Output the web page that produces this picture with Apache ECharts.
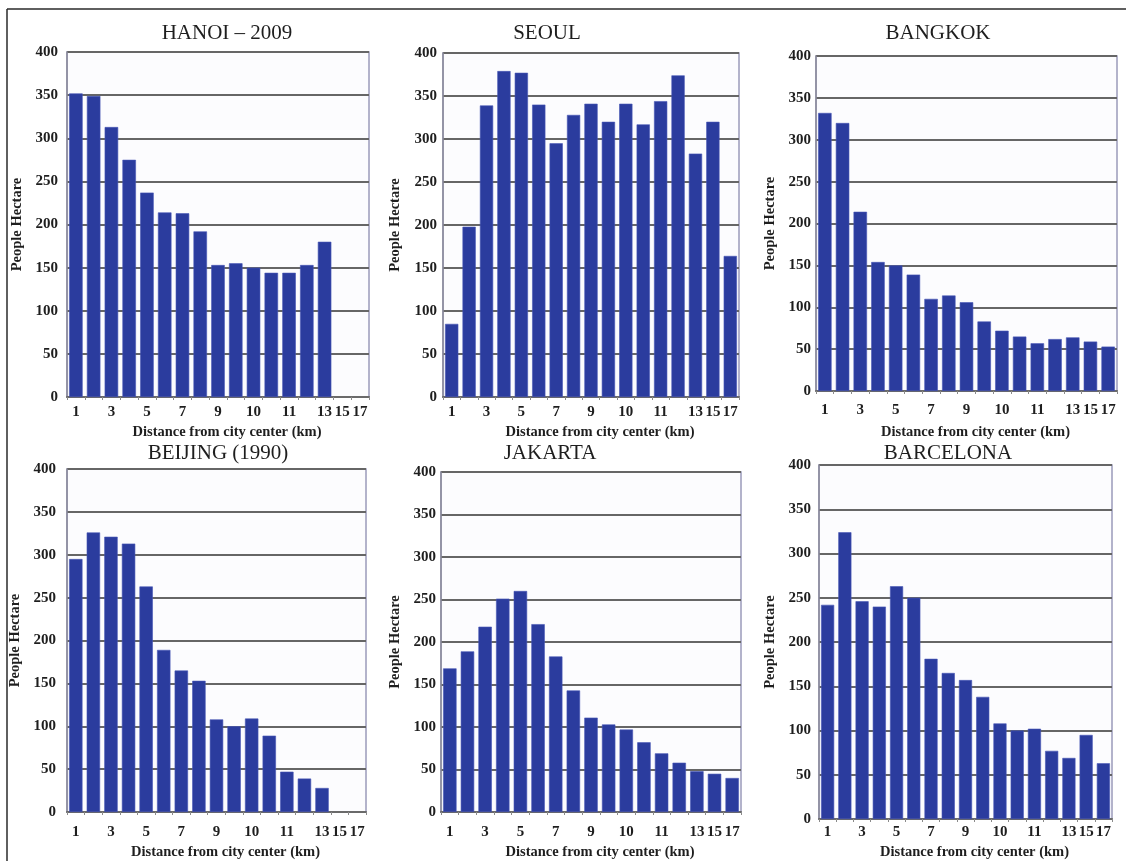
<!DOCTYPE html>
<html>
<head>
<meta charset="utf-8">
<script src="https://cdn.jsdelivr.net/npm/echarts@6/dist/echarts.min.js"></script>
<style>
html,body{margin:0;padding:0;background:#ffffff;}
#chart{width:1126px;height:861px;}
</style>
</head>
<body>
<div id="chart"></div>
<script>
// ---- data ----
const categories = ['1','2','3','4','5','6','7','8','9','10','11','12','13','14','15','16','17'];
const xTickLabels = ['1','','3','','5','','7','','9','','10','','11','','13','15','17'];
const yMin = 0, yMax = 400, yStep = 50;
const cityTitles = ['HANOI – 2009','SEOUL','BANGKOK','BEIJING (1990)','JAKARTA','BARCELONA'];
const yAxisName = 'People Hectare';
const xAxisName = 'Distance from city center (km)';

const hanoi     = [352, 349, 313, 275, 237, 214, 213, 192, 153, 155, 150, 144, 144, 153, 180];
const seoul     = [85, 198, 339, 379, 377, 340, 295, 328, 341, 320, 341, 317, 344, 374, 283, 320, 164];
const bangkok   = [332, 320, 214, 154, 150, 139, 110, 114, 106, 83, 72, 65, 57, 62, 64, 59, 53];
const beijing   = [295, 326, 321, 313, 263, 189, 165, 153, 108, 100, 109, 89, 47, 39, 28];
const jakarta   = [169, 189, 218, 251, 260, 221, 183, 143, 111, 103, 97, 82, 69, 58, 48, 45, 40];
const barcelona = [242, 324, 246, 240, 263, 250, 181, 165, 157, 138, 108, 100, 102, 77, 69, 95, 63];

const seriesData = [hanoi, seoul, bangkok, beijing, jakarta, barcelona];

// ---- layout (pixels) ----
const panels = [
  {left: 67,  top: 52,  width: 302, height: 345, title: [227, 33],  yLabM: 9,  yNameGap: 42, xLabM: 8,  xNameGap: 28},
  {left: 443, top: 53,  width: 296, height: 344, title: [547, 33],  yLabM: 6,  yNameGap: 40, xLabM: 8,  xNameGap: 28},
  {left: 816, top: 56,  width: 301, height: 335, title: [938, 33],  yLabM: 5,  yNameGap: 38, xLabM: 12, xNameGap: 34},
  {left: 67,  top: 469, width: 299, height: 348, title: [218, 453], yLabM: 11, yNameGap: 44, xLabM: 13, xNameGap: 33},
  {left: 441, top: 472, width: 300, height: 345, title: [550, 453], yLabM: 5,  yNameGap: 38, xLabM: 13, xNameGap: 33},
  {left: 819, top: 465, width: 293, height: 360, title: [948, 453], yLabM: 8,  yNameGap: 41, xLabM: 6,  xNameGap: 26}
];

const FONT = '"Liberation Serif", "DejaVu Serif", serif';
const TXT = '#1e1e1e';
const BAR = '#2b3c9e';

const grid = [], xAxis = [], yAxis = [], series = [], graphic = [];

panels.forEach((p, i) => {
  grid.push({
    left: p.left, top: p.top, width: p.width, height: p.height,
    show: true, backgroundColor: '#fcfcfe', borderColor: '#9a9abb', borderWidth: 1.5,
    containLabel: false
  });
  xAxis.push({
    type: 'category', gridIndex: i, data: categories,
    name: xAxisName, nameLocation: 'middle', nameGap: p.xNameGap,
    nameTextStyle: {fontFamily: FONT, fontSize: 14.5, fontWeight: 'bold', color: TXT, padding: [0, 0, 0, 18]},
    axisLine: {show: true, lineStyle: {color: '#6a6a6a', width: 2}},
    axisTick: {show: true, length: 3, lineStyle: {color: '#8a8a8a'}},
    axisLabel: {
      interval: 0, margin: p.xLabM, fontFamily: FONT, fontSize: 15, fontWeight: 'bold', color: TXT,
      formatter: (v, idx) => xTickLabels[idx]
    },
    splitLine: {show: false}
  });
  yAxis.push({
    type: 'value', gridIndex: i, min: yMin, max: yMax, interval: yStep,
    name: yAxisName, nameLocation: 'middle', nameGap: p.yNameGap, nameRotate: 90,
    nameTextStyle: {fontFamily: FONT, fontSize: 14.5, fontWeight: 'bold', color: TXT},
    axisLine: {show: true, lineStyle: {color: '#8a8a9a', width: 1.5}},
    axisTick: {show: false},
    axisLabel: {margin: p.yLabM, fontFamily: FONT, fontSize: 15, fontWeight: 'bold', color: TXT},
    splitLine: {show: true, lineStyle: {color: '#666666', width: 1.8}}
  });
  series.push({
    type: 'bar', xAxisIndex: i, yAxisIndex: i, data: seriesData[i],
    barCategoryGap: '24%',
    itemStyle: {color: BAR, borderColor: '#4656b6', borderWidth: 0.6},
    silent: true
  });
  graphic.push({
    type: 'text', x: p.title[0], y: p.title[1],
    style: {text: cityTitles[i], fontFamily: FONT, fontSize: 21, fill: TXT, textAlign: 'center', textVerticalAlign: 'middle'}
  });
});

// outer frame lines
graphic.push({type: 'line', shape: {x1: 7, y1: 9, x2: 1126, y2: 9}, style: {stroke: '#2a2a2a', lineWidth: 1.5}});
graphic.push({type: 'line', shape: {x1: 7, y1: 9, x2: 7, y2: 861}, style: {stroke: '#2a2a2a', lineWidth: 1.5}});

const chart = echarts.init(document.getElementById('chart'), null, {renderer: 'canvas'});
chart.setOption({
  backgroundColor: '#ffffff',
  animation: false,
  grid, xAxis, yAxis, series, graphic
});
</script>
</body>
</html>
